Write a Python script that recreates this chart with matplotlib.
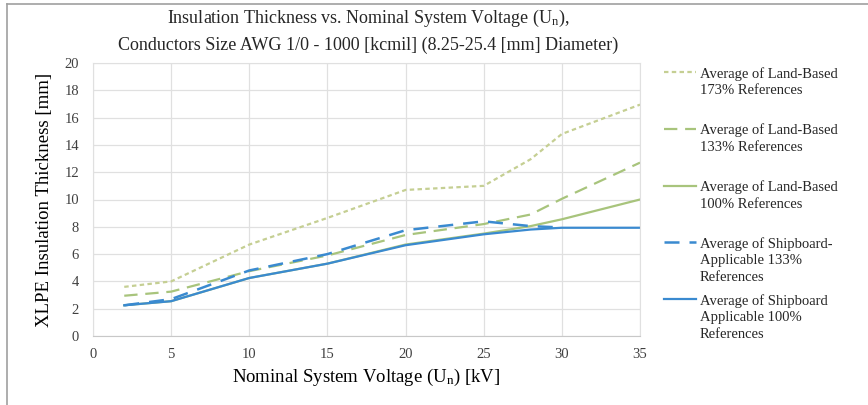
import matplotlib
matplotlib.use("Agg")
import matplotlib.pyplot as plt
from matplotlib.lines import Line2D

# Datos
voltage = [2, 5, 10, 15, 20, 25, 28, 30, 35]
voltage_ship133 = [2, 5, 10, 15, 20, 25, 28, 30]

land_173 = [3.6, 4.0, 6.7, 8.65, 10.7, 11.0, 12.95, 14.8, 16.95]
land_133 = [2.95, 3.25, 4.75, 5.9, 7.4, 8.2, 8.9, 10.05, 12.7]
land_100 = [2.25, 2.55, 4.25, 5.3, 6.7, 7.5, 8.05, 8.55, 10.0]
ship_133 = [2.25, 2.7, 4.8, 6.0, 7.75, 8.4, 8.05, 7.95]
ship_100 = [2.25, 2.55, 4.25, 5.3, 6.65, 7.45, 7.8, 7.93, 7.93]

labels = [
    "Average of Land-Based\n173% References\n ",
    "Average of Land-Based\n133% References\n ",
    "Average of Land-Based\n100% References\n ",
    "Average of Shipboard-\nApplicable 133%\nReferences",
    "Average of Shipboard\nApplicable 100%\nReferences",
]

x_ticks = [0, 5, 10, 15, 20, 25, 30, 35]
y_ticks = [0, 2, 4, 6, 8, 10, 12, 14, 16, 18, 20]

# Colores
green_dot = "#C5CF93"
green = "#A8C47C"
blue = "#3A8AD0"

plt.rcParams['font.family'] = ['Liberation Serif', 'DejaVu Serif']
plt.rcParams['mathtext.default'] = 'regular'

fig = plt.figure(figsize=(8.68, 4.05), dpi=100)
ax = fig.add_axes([93 / 868, 1 - 336 / 405, (640 - 93) / 868, (336 - 63) / 405])

# Series
ax.plot(voltage, land_173, color=green_dot, lw=1.6, linestyle=(0, (2, 1.5)), label=labels[0])
ax.plot(voltage, land_133, color=green, lw=1.6, linestyle=(0, (6, 3.5)), label=labels[1])
ax.plot(voltage, land_100, color=green, lw=1.6, label=labels[2])
ax.plot(voltage_ship133, ship_133, color=blue, lw=1.8, linestyle=(0, (6, 4)), label=labels[3])
ax.plot(voltage, ship_100, color=blue, lw=1.6, label=labels[4])

# Ejes y cuadrícula
ax.set_xlim(0, 35)
ax.set_ylim(0, 20)
ax.set_xticks(x_ticks)
ax.set_yticks(y_ticks)
ax.grid(True, color="#E0E0E0", lw=0.9)
ax.set_axisbelow(True)
for s in ax.spines.values():
    s.set_color("#E0E0E0")
ax.spines['bottom'].set_color("#C8C8C8")
ax.tick_params(length=0, labelsize=10.5, labelcolor="#404040")
ax.tick_params(axis='y', pad=10)
ax.tick_params(axis='x', pad=9)

ax.set_ylabel("XLPE Insulation Thickness [mm]", fontsize=13.5, labelpad=8)
ax.set_xlabel("Nominal System Voltage (U$_{n}$) [kV]", fontsize=13.5, labelpad=4)

# Título en dos líneas
fig.text(368 / 868, 1 - 18 / 405, "Insulation Thickness vs. Nominal System Voltage (U$_{n}$),",
         ha='center', va='center', fontsize=13, color="#262626")
fig.text(368 / 868, 1 - 45 / 405, "Conductors Size AWG 1/0 - 1000 [kcmil] (8.25-25.4 [mm] Diameter)",
         ha='center', va='center', fontsize=13, color="#262626")

# Leyenda
leg = fig.legend(loc='upper left', bbox_to_anchor=(664 / 868, 1 - 67 / 405),
                 frameon=False, fontsize=10.5, handlelength=2.2, handletextpad=0.25,
                 labelspacing=0.68, borderpad=0, borderaxespad=0)
for txt in leg.get_texts():
    txt.set_linespacing(1.35)
    txt.set_color("#262626")
for col in leg._legend_handle_box.get_children():
    for item in col.get_children():
        item.align = 'top'

# Borde de la figura (arriba e izquierda)
fig.add_artist(Line2D([7 / 868, 1], [1 - 4 / 405, 1 - 4 / 405], transform=fig.transFigure,
                      color="#A0A0A0", lw=1.2))
fig.add_artist(Line2D([7 / 868, 7 / 868], [1 - 4 / 405, 0], transform=fig.transFigure,
                      color="#A0A0A0", lw=1.2))

fig.savefig("out.png", dpi=100)
